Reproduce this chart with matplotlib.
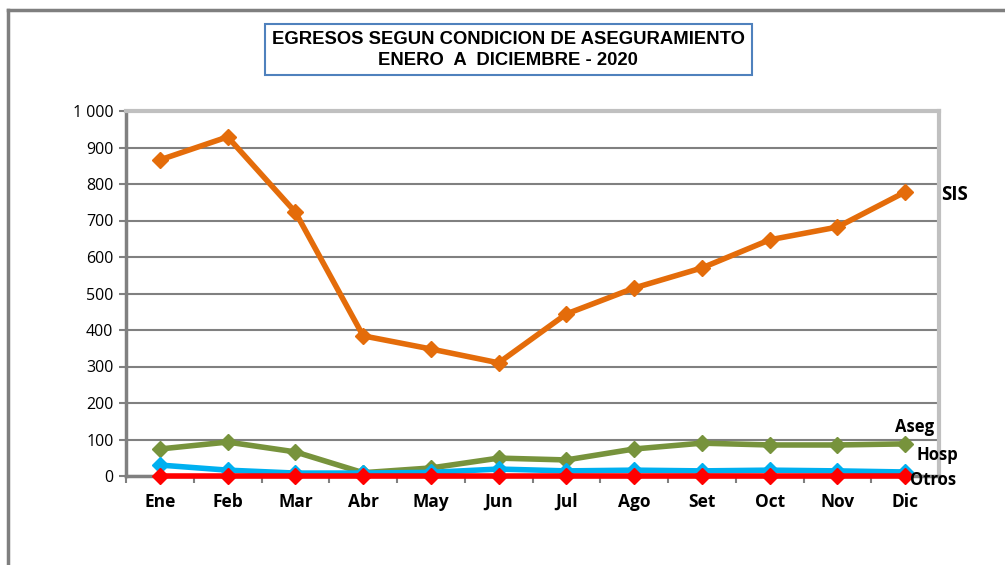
import numpy as np
import matplotlib.pyplot as plt
from matplotlib.lines import Line2D
from matplotlib.patches import Rectangle

meses = ['Ene', 'Feb', 'Mar', 'Abr', 'May', 'Jun', 'Jul', 'Ago', 'Set', 'Oct', 'Nov', 'Dic']
sis = [866, 929, 723, 384, 348, 310, 444, 515, 570, 647, 682, 778]
aseg = [74, 93, 66, 9, 22, 49, 44, 74, 90, 85, 85, 88]
hosp = [30, 16, 8, 8, 10, 19, 14, 16, 14, 16, 14, 11]
otros = [0, 0, 0, 0, 0, 0, 0, 0, 0, 0, 0, 0]

W, H = 1005, 565
fig = plt.figure(figsize=(W / 100, H / 100), dpi=100)
ax = fig.add_axes([126 / W, 1 - 476 / H, (939 - 126) / W, (476 - 111) / H])

x = np.arange(len(meses))
# Otros se dibuja al final, queda encima
for vals, col in [(sis, '#E46C0A'), (aseg, '#77933C'), (hosp, '#00B0F0'), (otros, '#FF0000')]:
    ax.plot(x, vals, color=col, lw=4, marker='D', ms=8.5, clip_on=False, zorder=3)

ax.set_xlim(-0.5, 11.5)
ax.set_ylim(0, 1000)
yt = np.arange(0, 1001, 100)
ax.set_yticks(yt)
ax.set_yticklabels([f'{v:,}'.replace(',', ' ') for v in yt], fontsize=11.5, family='Open Sans')
ax.set_xticks(x)
ax.set_xticklabels(meses, fontsize=12.5, fontweight='bold', family='Open Sans')
ax.set_xticks(np.arange(-0.5, 12, 1), minor=True)
ax.tick_params(axis='x', which='major', length=0, pad=12)
ax.tick_params(axis='x', which='minor', length=5, width=1.5, color='#808080', direction='out')
ax.tick_params(axis='y', length=5, width=1.5, color='#808080', pad=4)
ax.grid(axis='y', color='#808080', lw=1.5, zorder=0)

for side in ['left', 'bottom']:
    ax.spines[side].set_color('#808080')
    ax.spines[side].set_linewidth(2.5)
for side in ['top', 'right']:
    ax.spines[side].set_color('#C0C0C0')
    ax.spines[side].set_linewidth(3)

# etiquetas de series al final de cada linea
lab = dict(fontweight='bold', family='Open Sans', color='black', textcoords='offset pixels',
           va='center', annotation_clip=False)
ax.annotate('SIS', (11, sis[-1]), xytext=(36, -3), fontsize=13.5, **lab)
ax.annotate('Aseg', (11, aseg[-1]), xytext=(29, 17), ha='right', fontsize=12, **lab)
ax.annotate('Hosp', (11, hosp[-1]), xytext=(11, 17), fontsize=12, **lab)
ax.annotate('Otros', (11, otros[-1]), xytext=(5, -4), fontsize=12, **lab)

# borde del grafico
fig.add_artist(Line2D([8 / W, 8 / W], [0, 1 - 10 / H], color='#7F7F7F', lw=2.5))
fig.add_artist(Line2D([8 / W, 1], [1 - 10 / H, 1 - 10 / H], color='#7F7F7F', lw=2.5))

# titulo en recuadro
fig.add_artist(Rectangle((265 / W, 1 - 75 / H), (752 - 265) / W, 51 / H, fill=False,
                         edgecolor='#4F81BD', lw=1.5))
fig.text(508 / W, 1 - 50 / H, 'EGRESOS SEGUN CONDICION DE ASEGURAMIENTO\nENERO  A  DICIEMBRE - 2020',
         ha='center', va='center', fontsize=13.3, fontweight='bold', family='Liberation Sans',
         linespacing=1.3)

fig.savefig('out.png', dpi=100)
